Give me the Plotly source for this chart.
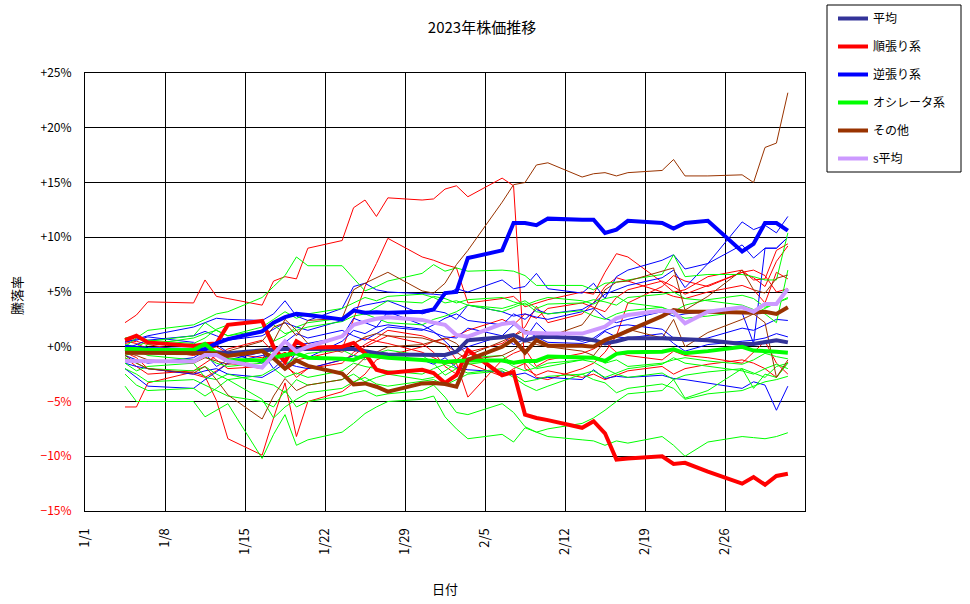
import plotly.graph_objects as go
from datetime import date

# ---------------- data ----------------
dates = ["2023-01-04", "2023-01-05", "2023-01-06", "2023-01-10", "2023-01-11", "2023-01-12", "2023-01-13",
         "2023-01-16", "2023-01-17", "2023-01-18", "2023-01-19", "2023-01-20",
         "2023-01-23", "2023-01-24", "2023-01-25", "2023-01-26", "2023-01-27",
         "2023-01-30", "2023-01-31", "2023-02-01", "2023-02-02", "2023-02-03",
         "2023-02-06", "2023-02-07", "2023-02-08", "2023-02-09", "2023-02-10",
         "2023-02-13", "2023-02-14", "2023-02-15", "2023-02-16", "2023-02-17",
         "2023-02-20", "2023-02-21", "2023-02-22", "2023-02-24",
         "2023-02-27", "2023-02-28", "2023-03-01", "2023-03-02", "2023-03-03"]
tick_dates = ["2023-01-01", "2023-01-08", "2023-01-15", "2023-01-22", "2023-01-29",
              "2023-02-05", "2023-02-12", "2023-02-19", "2023-02-26"]
tick_labels = ["1/1", "1/8", "1/15", "1/22", "1/29", "2/5", "2/12", "2/19", "2/26"]
y_ticks = [-15, -10, -5, 0, 5, 10, 15, 20, 25]

# thick (group) series
avg = [-0.2, -0.3, -0.4, -0.5, -0.5, -0.5, -0.6, -0.3, -0.25, -0.2, -0.2, -0.2, -0.2, -0.2, -0.4, -0.6, -0.7,
       -0.75, -0.8, -0.75, -0.45, 0.6, 0.86, 1.07, 0.55, 0.86, 0.92, 0.77, 0.6, 0.31, 0.5, 0.77, 0.77, 0.68,
       0.68, 0.6, 0.25, 0.25, 0.46, 0.6, 0.4]
trend = [0.6, 1.0, 0.4, 0.07, 0.22, 0.3, 2.0, 2.35, 0.0, -1.4, 0.5, -0.1, 0.0, 0.35, -0.6, -2.1, -2.4,
         -2.1, -2.4, -3.3, -2.6, -0.3, -2.6, -2.3, -6.2, -6.5, -6.7, -7.4, -6.8, -7.9, -10.3, -10.2,
         -10.0, -10.7, -10.6, -11.4, -12.5, -11.9, -12.6, -11.8, -11.6]
contra = [0.0, -0.1, -0.2, -0.3, -0.2, 0.3, 0.7, 1.4, 2.2, 2.7, 3.0, 2.9, 2.5, 3.3, 3.1, 3.15, 3.1,
          3.2, 3.4, 4.9, 5.0, 8.1, 8.8, 11.3, 11.3, 11.1, 11.7, 11.6, 11.6, 10.4, 10.7, 11.5,
          11.3, 10.8, 11.3, 11.5, 8.7, 9.4, 11.3, 11.3, 10.6]
osc = [-0.2, -0.2, -0.3, -0.3, 0.25, -0.6, -1.2, -1.25, -1.0, -0.75, -0.6, -1.0, -1.1, -1.2, -0.75, -0.9, -1.0,
       -1.2, -1.3, -1.4, -1.3, -1.25, -1.25, -1.45, -1.3, -1.3, -0.9, -1.0, -1.0, -1.3, -0.65, -0.5,
       -0.45, -0.24, -0.6, -0.4, 0.0, -0.35, -0.36, -0.45, -0.54]
other = [-0.55, -0.55, -0.55, -0.55, -0.55, -0.6, -0.85, -0.4, -1.05, -2.0, -1.25, -1.75, -2.45, -3.45, -3.35,
         -3.65, -4.1, -3.35, -3.3, -3.4, -3.65, -1.2, 0.0, 0.68, -0.54, 0.6, 0.1, 0.1, 0.0, 0.6, 1.0, 1.45,
         2.8, 3.35, 3.2, 3.2, 3.1, 3.1, 3.2, 3.0, 3.6]
s_avg = [-1.3, -1.3, -1.35, -1.35, -0.75, -0.75, -1.3, -1.9, -0.7, 0.5, -0.45, 0.0, 0.95, 2.0, 2.3, 2.55, 2.7,
         2.45, 2.2, 2.0, 1.07, 0.92, 2.08, 2.2, 1.28, 1.2, 1.2, 1.2, 1.53, 1.83, 2.6, 2.9, 3.3, 3.2, 2.14, 3.2,
         3.6, 3.2, 3.9, 3.9, 5.3]

# thin (individual) series – 順張り
trend_1 = [2.2, 2.9, 4.1, 4.0, 6.1, 4.6, 4.4, 3.8, 6.0, 6.4, 6.2, 9.0, 9.7, 12.7, 13.4, 11.9, 13.6, 13.4, 13.5,
           14.4, 14.7, 13.7, 15.4, 14.7, -2.0, -2.6, -2.2, -2.8, -2.5, -3.0, -2.6, -2.2, -1.8, -2.5, -2.0, -1.6,
           -1.2, -1.5, -2.0, -2.8, -1.4]
trend_2 = [0.3, 0.5, 0.2, -0.5, -0.3, 0.0, -0.6, -1.0, -0.8, 0.4, -0.5, 0.0, -0.2, 2.5, 5.5, 7.6, 9.9, 8.2, 7.9,
           7.5, 7.2, 4.0, 4.4, 4.6, 3.65, 4.0, 4.3, 5.0, 4.8, 6.8, 8.5, 8.2, 5.9, 5.0, 5.2, 6.4, 7.0, 6.1,
           6.2, 8.8, 9.4]
trend_3 = [-5.5, -5.5, -3.3, -2.3, -2.7, -4.9, -8.4, -9.9, -6.5, -3.3, -8.2, -5.0, -4.1, -3.3, -2.5, -1.2, -0.8,
           0.0, 0.5, 0.7, 1.0, 1.5, 2.5, 2.0, 3.0, 2.6, 3.5, 4.0, 3.6, 3.2, 4.5, 5.2, 6.0, 5.5, 4.8, 5.6, 6.8, 6.3,
           5.5, 7.8, 9.2]
trend_4 = [-0.5, -1.0, -2.0, -2.5, -2.8, -2.2, -1.5, -2.0, -1.0, -0.5, -1.2, -1.0, -0.3, 0.3, 0.8, 0.5, 1.0,
           0.3, -0.5, -1.8, -2.5, -1.5, -2.7, -2.0, -1.5, -2.8, -3.0, -2.0, -1.5, -0.5, 1.0, 4.0, 5.5, 6.5, 6.0,
           5.5, 6.8, 7.0, 6.5, 5.0, 5.3]
trend_5 = [0.5, 0.3, -0.2, -0.8, -0.5, -1.2, -2.0, -1.8, -0.8, -1.8, -2.5, -2.0, -1.5, -0.5, 0.2, 0.8, 1.5,
           1.0, 0.6, 0.2, -1.2, -0.5, 0.3, 1.0, 1.8, 3.7, 2.2, 3.0, 4.0, 5.5, 6.3, 6.0, 5.0, 4.6, 4.4, 5.0, 5.6,
           5.2, 4.0, 6.8, 6.2]
trend_6 = [-1.0, -1.8, -2.5, -2.2, -1.5, -0.8, -0.2, 0.6, -0.5, -1.5, -2.8, -2.0, -1.2, -0.8, 0.0, 0.5, 0.3,
           -0.5, -1.0, -1.5, -1.5, -4.6, -1.2, -0.6, -0.2, -1.8, -1.2, -0.6, -0.2, 0.4, -0.5, -0.8, -1.2, -0.4,
           -0.8, -1.0, -1.5, -0.5, 0.5, -1.5, -2.5]
# 逆張り
contra_1 = [0.4, 0.7, 1.0, 1.8, 2.2, 2.6, 2.5, 2.4, 3.0, 4.2, 2.8, 2.4, 3.5, 5.5, 5.8, 5.2, 5.0, 4.9, 4.8, 4.7,
            5.3, 5.0, 6.1, 5.3, 5.5, 6.7, 5.3, 4.9, 5.8, 4.4, 6.4, 7.0, 7.9, 8.4, 7.1, 7.6, 11.4, 10.7, 11.1,
            10.4, 11.9]
contra_2 = [-0.2, 0.2, 0.6, 1.0, 1.4, 1.0, 0.6, 1.0, 1.6, 2.2, 1.8, 1.5, 2.4, 3.5, 3.8, 4.0, 4.2, 3.0, 3.3, 3.1,
            2.5, 3.8, 3.2, 2.8, 3.0, 2.7, 2.5, 3.2, 3.5, 2.6, 2.2, 2.5, 3.2, 2.8, 3.0, 3.2, 3.1, 0.3, 9.0, 9.0,
            10.0]
contra_3 = [-1.5, -1.8, -2.0, -2.5, -2.2, -2.0, -2.5, -2.8, -2.2, -1.5, -1.8, -2.0, -1.2, -0.8, -1.0, -0.5,
            -0.9, -1.2, -1.6, -1.0, -1.9, -2.1, -2.3, -2.6, -2.4, -2.9, -2.8, -3.0, -2.1, -2.9, -2.7, -2.8, -2.6,
            -2.9, -3.0, -3.3, -3.8, -3.2, -3.5, -5.8, -3.6]
contra_4 = [-2.0, -2.8, -3.6, -3.8, -3.0, -2.3, -1.5, -0.8, -1.0, -2.0, -0.5, -1.0, 0.5, 1.5, 1.2, 1.8, 2.0,
            1.6, 1.3, 0.9, 0.8, 1.7, 1.0, 0.2, 0.7, 2.2, 1.2, 0.5, 0.8, 1.5, 1.9, 2.0, 1.6, 0.8, 0.5, 0.8, 1.7,
            1.5, 2.0, 2.5, 2.4]
contra_5 = [0.5, 0.6, 0.9, 0.4, -0.6, -1.8, -1.2, -0.5, -2.0, -1.0, 0.2, 0.3, 0.9, 2.6, 2.2, 1.8, 3.2, 2.0,
            1.4, 0.5, -0.5, 0.0, 1.0, 2.0, 1.5, 0.9, 0.4, 0.3, 0.6, 1.4, 0.9, 0.8, 1.2, 0.3, -0.4, 0.2, 0.5, 0.6,
            0.8, 1.2, 0.9]
contra_6 = [-0.8, -1.2, -1.5, -1.0, -0.4, 0.2, -0.5, -1.5, -0.8, 0.4, 1.2, 0.8, 1.5, 1.0, 0.6, 1.2, 1.8, 1.5,
            2.0, 2.6, 3.0, 2.4, 2.0, 3.0, 2.5, 3.4, 3.0, 3.4, 4.0, 4.8, 5.2, 5.6, 6.3, 7.0, 5.4, 7.6, 9.3, 8.1,
            9.0, 9.0, 10.0]
# オシレータ
osc_1 = [0.0, 0.8, 1.5, 2.0, 2.5, 3.0, 3.2, 4.5, 5.5, 6.5, 8.2, 7.4, 7.4, 6.2, 5.1, 5.5, 6.0, 6.7, 7.5, 6.9,
         7.2, 6.9, 7.0, 6.9, 6.5, 5.6, 5.6, 5.6, 5.2, 5.8, 5.9, 6.1, 6.6, 8.4, 6.4, 6.6, 6.6, 6.4, 6.1, 6.1, 10.4]
osc_2 = [-0.8, -0.5, 0.2, 0.8, 1.2, 1.5, 1.0, 1.8, 2.5, 3.2, 2.6, 3.0, 3.5, 4.0, 4.5, 4.2, 4.6, 4.8, 4.5, 4.0,
         4.2, 3.8, 3.5, 3.8, 4.2, 3.5, 3.9, 4.0, 4.3, 4.1, 3.8, 4.5, 4.8, 5.0, 4.4, 4.2, 3.8, 3.4, 3.0, 2.2, 7.0]
osc_3 = [-3.6, -5.0, -5.0, -5.0, -6.4, -5.8, -5.2, -10.2, -8.0, -6.2, -9.0, -8.5, -7.8, -7.0, -6.1, -5.5, -5.0,
         -4.8, -4.5, -6.4, -7.5, -8.4, -8.0, -8.7, -7.4, -7.8, -8.2, -8.5, -8.6, -9.0, -8.6, -8.8, -8.2, -9.0,
         -10.0, -8.7, -8.2, -8.3, -8.4, -8.2, -7.85]
osc_4 = [-2.0, -2.5, -3.2, -3.0, -3.5, -4.0, -4.5, -5.0, -5.5, -4.0, -5.5, -5.0, -4.5, -4.2, -4.0, -4.5, -4.3,
         -4.0, -3.5, -4.6, -6.0, -6.2, -5.2, -6.0, -7.3, -7.8, -7.5, -7.0, -6.5, -5.8, -5.0, -4.3, -4.0, -3.0,
         -4.7, -4.0, -2.0, -3.8, -2.5, -2.8, -1.5]
osc_5 = [-1.0, -1.5, -2.0, -2.2, -1.8, -2.5, -3.0, -2.6, -2.0, -2.8, -2.4, -2.8, -2.2, -1.5, -1.8, -2.0, -2.2,
         -2.5, -2.0, -1.6, -2.0, -2.4, -2.0, -2.5, -3.2, -3.0, -2.7, -2.5, -2.2, -2.8, -2.4, -2.0, -1.6, -1.0,
         -1.5, -1.8, -2.2, -2.5, -2.0, -1.6, -2.0]
osc_6 = [0.2, 0.0, 0.5, 1.0, 2.2, 1.5, 1.0, 1.5, 2.0, 1.2, 1.5, 1.8, 2.3, 2.8, 3.0, 2.6, 2.2, 2.0, 2.5, 2.8,
         3.2, 3.8, 3.2, 3.6, 4.0, 3.2, 3.0, 3.3, 2.8, 2.5, 3.0, 3.3, 3.6, 3.0, 2.6, 2.8, 3.2, 3.0, 3.5, 4.0, 4.5]
osc_7 = [-1.5, -2.2, -1.8, -1.5, -2.8, -3.0, -2.5, -3.2, -3.5, -4.2, -3.0, -3.5, -3.0, -2.5, -3.2, -2.8, -2.5,
         -3.0, -2.8, -2.2, -1.5, -1.0, -0.8, -1.6, -1.2, -2.0, -1.8, -1.2, -0.8, -1.5, -1.2, -1.8, -1.5, -1.2,
         -1.0, -1.3, -1.6, -1.2, -0.6, -0.9, -1.1]
osc_8 = [0.8, 1.0, 0.6, 0.3, 0.8, 1.6, 2.0, 2.4, 0.5, 1.0, 1.8, 2.2, 2.6, 3.4, 3.0, 3.6, 4.2, 4.0, 4.6, 4.4,
         4.0, 4.3, 4.5, 4.1, 3.8, 4.2, 4.5, 4.2, 3.9, 4.4, 4.6, 4.0, 3.6, 3.2, 3.8, 4.3, 4.7, 4.4, 3.6, 4.0, 4.4]
osc_9 = [-0.5, -0.3, -0.8, -1.2, -0.9, -1.5, -1.8, -1.5, -0.2, -1.6, -1.0, -0.6, -0.3, -0.8, -1.2, -0.6, -0.3,
         -0.8, -1.5, -2.6, -2.0, -1.6, -1.2, -1.8, -2.2, -1.9, -1.5, -1.2, -1.4, -2.0, -2.5, -2.8, -2.4, -3.0,
         -2.6, -2.3, -2.0, -2.4, -2.8, -1.8, -1.5]
osc_10 = [-2.5, -3.5, -4.0, -3.8, -4.5, -3.8, -3.0, -4.8, -6.5, -5.5, -4.8, -4.2, -3.8, -3.2, -2.8, -3.4, -3.6,
          -3.2, -3.0, -3.5, -3.0, -2.5, -2.2, -2.8, -3.5, -4.0, -3.6, -2.5, -3.0, -3.3, -4.2, -3.8, -3.4, -3.8,
          -4.8, -4.3, -4.0, -3.6, -3.2, -3.0, -2.7]
# その他
other_1 = [-0.3, -0.5, -0.2, -0.6, -0.8, -0.5, -0.4, 0.5, 1.8, 2.2, 1.0, 2.4, 2.6, 5.2, 5.8, 6.3, 6.8, 5.1, 4.9,
           5.8, 7.5, 8.8, 13.2, 14.8, 15.0, 16.6, 16.8, 15.5, 15.8, 15.9, 15.6, 15.9, 16.1, 17.1, 15.6, 15.6,
           15.7, 15.0, 18.2, 18.6, 23.2]
other_2 = [-0.8, -1.5, -2.0, -2.4, -1.8, -3.0, -4.4, -6.6, -4.5, -2.9, -4.0, -3.5, -3.0, -2.0, -1.0, -0.5, 0.0,
           0.2, 0.5, 0.8, 0.3, -0.8, 0.5, 1.0, 1.5, 1.2, 0.9, 2.0, 3.35, 5.2, 5.9, 6.0, 6.85, 7.2, 3.35, 4.6,
           7.0, 5.2, 4.9, 6.25, 6.55]
other_3 = [-0.5, -0.8, -1.2, -1.5, -1.0, -1.3, -1.6, -1.2, 0.5, 2.5, 1.5, 0.3, -0.5, 0.3, 0.9, 1.2, 1.0, 0.8,
           0.5, 0.2, -0.5, -1.2, -0.8, -0.3, 0.5, 0.2, 0.0, -0.4, -0.8, 0.5, 1.0, 1.6, 0.8, 2.5, 0.0, 1.3, 2.5,
           3.0, 2.2, -2.8, -1.2]

# ---------------- figure ----------------
d0 = date(2023, 1, 1)


def day_pos(s, shift):
    y, m, d = map(int, s.split("-"))
    return (date(y, m, d) - d0).days + shift


x = [day_pos(s, 0.5) for s in dates]
tick_vals = [day_pos(s, 0) for s in tick_dates]

RED, BLUE, GREEN, BROWN = "#FF0000", "#0000FF", "#00FF00", "#993300"
NAVY, LILAC = "#333399", "#CC99FF"

fig = go.Figure()
thin = [(trend_1, RED), (trend_2, RED), (trend_3, RED), (trend_4, RED), (trend_5, RED), (trend_6, RED),
        (contra_1, BLUE), (contra_2, BLUE), (contra_3, BLUE), (contra_4, BLUE), (contra_5, BLUE), (contra_6, BLUE),
        (osc_1, GREEN), (osc_2, GREEN), (osc_3, GREEN), (osc_4, GREEN), (osc_5, GREEN), (osc_6, GREEN),
        (osc_7, GREEN), (osc_8, GREEN), (osc_9, GREEN), (osc_10, GREEN),
        (other_1, BROWN), (other_2, BROWN), (other_3, BROWN)]
for ys, c in thin:
    fig.add_trace(go.Scatter(x=x, y=ys, mode="lines", line=dict(color=c, width=1),
                             showlegend=False, hoverinfo="skip"))

thick = [("平均", avg, NAVY), ("順張り系", trend, RED), ("逆張り系", contra, BLUE),
         ("オシレータ系", osc, GREEN), ("その他", other, BROWN), ("s平均", s_avg, LILAC)]
for i, (name, ys, c) in enumerate(thick):
    fig.add_trace(go.Scatter(x=x, y=ys, mode="lines", name=name, legendgroup=f"g{i}",
                             line=dict(color=c, width=4)))

ytext = []
for v in y_ticks:
    if v < 0:
        ytext.append(f'<span style="color:#FF0000">−{abs(v)}%</span>')
    else:
        ytext.append(f"+{v}%")

FONT = "Noto Sans CJK JP"
fig.update_layout(
    width=970, height=604,
    margin=dict(l=85, r=165, t=73, b=93, autoexpand=False),
    paper_bgcolor="white", plot_bgcolor="white",
    font=dict(family=FONT, size=12, color="black"),
    title=dict(text="2023年株価推移", x=482 / 970, xref="container", xanchor="center",
               y=1 - 28 / 604, yref="container", yanchor="middle", font=dict(size=15)),
    xaxis=dict(range=[0, 63], tickvals=tick_vals, ticktext=tick_labels, tickangle=-90,
               showgrid=True, gridcolor="black", gridwidth=1, zeroline=False,
               showline=True, linecolor="black", linewidth=1, mirror=True, ticks="",
               ticklabelstandoff=11, tickfont=dict(size=13), automargin=False),
    yaxis=dict(range=[-15, 25], tickvals=y_ticks, ticktext=ytext,
               showgrid=True, gridcolor="black", gridwidth=1, zeroline=False,
               showline=True, linecolor="black", linewidth=1, mirror=True, ticks="",
               ticklabelstandoff=10, tickfont=dict(size=12), automargin=False),
    legend=dict(x=(833 - 85) / 720, xanchor="left", y=(511 - 4) / 438, yanchor="top",
                borderwidth=0, bgcolor="rgba(0,0,0,0)",
                font=dict(size=12), tracegroupgap=9, itemwidth=30),
    shapes=[dict(type="rect", xref="paper", yref="paper",
                 x0=(827 - 85) / 720, x1=(961 - 85) / 720,
                 y0=(511 - 172) / 438, y1=(511 - 5) / 438,
                 line=dict(color="black", width=1), fillcolor="rgba(0,0,0,0)", layer="below")],
    annotations=[
        dict(text="日付", x=(445 - 85) / 720, y=(511 - 588) / 438, xref="paper", yref="paper",
             xanchor="center", yanchor="middle", showarrow=False, font=dict(size=13)),
        dict(text="騰落率", x=(16 - 85) / 720, y=(511 - 296) / 438, xref="paper", yref="paper",
             xanchor="center", yanchor="middle", showarrow=False, textangle=-90, font=dict(size=13)),
    ],
)

fig.write_html("out.html")
